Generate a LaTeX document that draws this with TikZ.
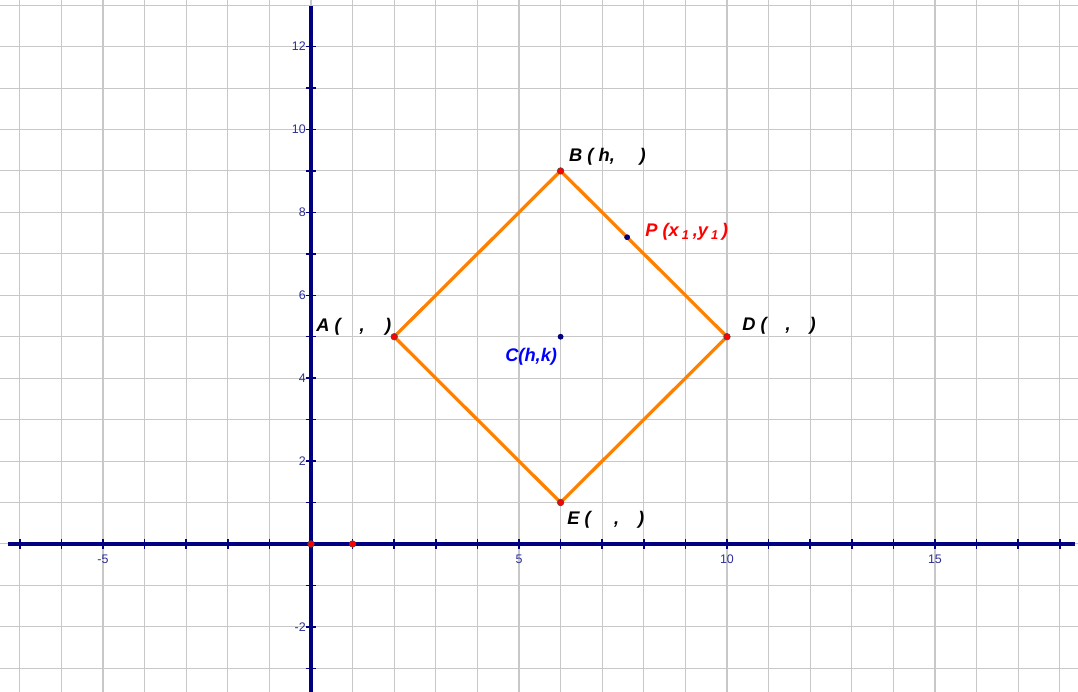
\documentclass[tikz,border=0pt]{standalone}
\usepackage{fontspec}
\setmainfont{Liberation Sans}
\definecolor{axisblue}{RGB}{0,0,128}
\definecolor{ticklab}{RGB}{45,45,150}
\definecolor{gridgray}{RGB}{200,200,200}
\definecolor{sqorange}{RGB}{255,127,0}
\tikzset{
  gridline/.style={draw=gridgray, line width=0.7pt},
  axisline/.style={draw=axisblue, line width=2.4pt},
  tickmark/.style={draw=axisblue, line width=1pt},
  ticklabel/.style={text=ticklab, font=\fontsize{8.5}{9}\selectfont, inner sep=0pt},
  ptlabel/.style={font=\fontsize{12.5}{14}\selectfont\bfseries\itshape, inner sep=0pt, anchor=base west},
  redpt/.style={circle, fill=red, draw=black!70, line width=0.4pt, inner sep=0pt, minimum size=4.5pt},
  bluept/.style={circle, fill=axisblue, inner sep=0pt, minimum size=4pt},
  edge/.style={draw=sqorange, line width=2.2pt}
}
\begin{document}
\begin{tikzpicture}[x=1cm, y=0.99639cm]
\useasboundingbox (-7.476,-3.571) rectangle (18.438,13.124);
\clip (-7.476,-3.571) rectangle (18.438,13.124);
% grid
\foreach \i in {-7,...,18} \draw[gridline] (\i,-3.6) -- (\i,13.2);
\foreach \j in {-3,...,13} \draw[gridline] (-7.5,\j) -- (18.5,\j);
% axes
\coordinate (xl) at (-7.28,0);
\coordinate (xr) at (18.36,0);
\coordinate (yb) at (0,-3.6);
\coordinate (yt) at (0,12.98);
\draw[axisline] (xl) -- (xr);
\draw[axisline] (yb) -- (yt);
% ticks
\foreach \i in {-7,...,18} \draw[tickmark] (\i,-0.11) -- (\i,0.11);
\foreach \j in {-3,...,12} \draw[tickmark] (-0.11,\j) -- (0.11,\j);
% tick labels
\foreach \i in {-5,5,10,15} \node[ticklabel] (tx\i) at (\i,-0.36) {\i};
\foreach \j in {-2,2,4,6,8,10,12} \node[ticklabel, anchor=east] (ty\j) at (-0.12,\j) {\j};
% square
\coordinate (A) at (2,5);
\coordinate (B) at (6,9);
\coordinate (D) at (10,5);
\coordinate (E) at (6,1);
\coordinate (C) at (6,5);
\coordinate (P) at (7.6,7.4);
\draw[edge, line join=miter] (A) -- (B) -- (D) -- (E) -- cycle;
% points
\node[redpt] (O) at (0,0) {};
\node[redpt] (U) at (1,0) {};
\node[redpt] (Apt) at (A) {};
\node[redpt] (Bpt) at (B) {};
\node[redpt] (Dpt) at (D) {};
\node[redpt] (Ept) at (E) {};
\node[bluept] (Cpt) at (C) {};
\node[bluept] (Ppt) at (P) {};
% labels
\node[ptlabel] (Alab) at (0.12,5.115) {A (\hspace{13pt},\hspace{14pt})};
\node[ptlabel] (Blab) at (6.20,9.216) {B ( h,\hspace{17pt})};
\node[ptlabel] (Dlab) at (10.36,5.139) {D (\hspace{13pt},\hspace{13pt})};
\node[ptlabel] (Elab) at (6.154,0.458) {E (\hspace{16pt},\hspace{13pt})};
\node[ptlabel, text=blue] (Clab) at (4.663,4.391) {C(h,k)};
\node[ptlabel, text=red] (Plab) at (8.03,7.407) {P (x\,\textsubscript{1}\,,y\,\textsubscript{1}\,)};
\end{tikzpicture}
\end{document}
